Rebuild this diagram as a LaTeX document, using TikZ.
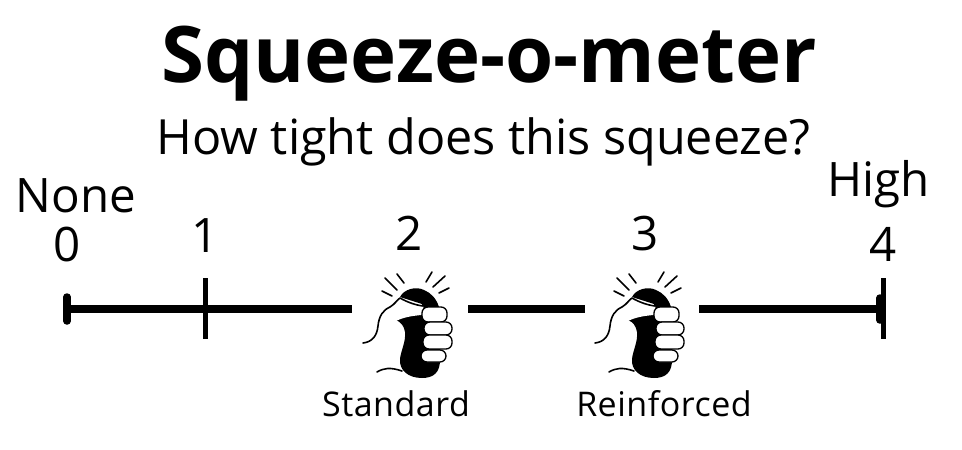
\documentclass[tikz,border=0pt]{standalone}
\usepackage{fontspec}
\setmainfont{Open Sans}
\tikzset{
  every node/.style={inner sep=0pt,outer sep=0pt,anchor=base,text=black},
  titletext/.style={font=\fontsize{78}{78}\selectfont\bfseries},
  subtext/.style={font=\fontsize{48.5}{48}\selectfont},
  bigtext/.style={font=\fontsize{47.5}{47}\selectfont},
  smalltext/.style={font=\fontsize{34}{34}\selectfont\addfontfeature{LetterSpace=1.5}},
  axis/.style={line width=7.5pt,black},
  tick/.style={line width=5pt,black},
  endcap/.style={line width=7.5pt,black,line cap=round},
  hand/.style={line width=1.6pt,black,line cap=round,line join=round},
  finger/.style={line width=1.3pt,draw=black,fill=white,rounded corners=6pt},
  pics/fist/.style={code={
    \begin{scope}[yscale=-1]
    \fill[black] (50,37) .. controls (54,29) and (66,26) .. (74,30) .. controls (81,33) and (86,38) .. (89,47)
      -- (90,100) .. controls (90,112) and (84,118) .. (72,118) .. controls (58,118) and (49,110) .. (50,99)
      .. controls (51,90) and (56,82) .. (55,72) .. controls (54,66) and (51,62) .. (46,60) -- (72,50) -- (72,44) -- cycle;
    \fill[white] (13,83) .. controls (22,82) and (27,76) .. (28,66)
      .. controls (29,56) and (33,50) .. (40,47) .. controls (45,44) and (47,40) .. (50,38)
      .. controls (57,42) and (65,45) .. (73,46) .. controls (75,50) and (73,54) .. (71,55)
      .. controls (62,56) and (54,57) .. (46,61) -- cycle;
    \draw[hand] (13,83) .. controls (22,82) and (27,76) .. (28,66)
      .. controls (29,56) and (33,50) .. (40,47) .. controls (45,44) and (47,40) .. (50,38)
      .. controls (57,42) and (65,45) .. (73,46);
    \draw[hand] (27,112) .. controls (34,108) and (40,107) .. (52,111);
    \draw[finger] (72,47) rectangle (97,62);
    \draw[finger] (74,62) rectangle (102,75);
    \draw[finger] (73,75) rectangle (102,89);
    \draw[finger] (71,90) rectangle (96,102);
    \draw[hand] (32,31) -- (42,36);
    \draw[hand] (35,18) -- (47,30);
    \draw[hand] (47,14) -- (54,23);
    \draw[hand] (76,22) -- (82,12);
    \draw[hand] (83,27) -- (95,16);
    \draw[hand] (89,33) -- (99,28);
    \end{scope}
  }}
}
\begin{document}
\begin{tikzpicture}[x=1pt,y=1pt]
\useasboundingbox (0,0) rectangle (962,-450);
\node[titletext] (title) at (489,-82) {Squeeze-o-meter};
\node[subtext] (sub) at (483.5,-154) {How tight does this squeeze?};
\node[bigtext] (none) at (76,-212) {None};
\node[bigtext] (high) at (878.5,-196) {High};
\node[bigtext] (n0) at (67.5,-261) {0};
\node[bigtext] (n1) at (205,-252) {1};
\node[bigtext] (n2) at (409,-250) {2};
\node[bigtext] (n3) at (645,-250) {3};
\node[bigtext] (n4) at (883,-261) {4};
\node[smalltext] (std) at (396,-416) {Standard};
\node[smalltext] (rei) at (664,-416) {Reinforced};
\coordinate (a0) at (67,-309);
\coordinate (a1) at (352,-309);
\coordinate (b0) at (468,-309);
\coordinate (b1) at (585,-309);
\coordinate (c0) at (699,-309);
\coordinate (c1) at (881,-309);
\draw[axis] (a0) -- (a1);
\draw[axis] (b0) -- (b1);
\draw[axis] (c0) -- (c1);
\draw[endcap] (67,-297) -- (67,-321);
\draw[tick] (205,-278) -- (205,-339);
\draw[tick] (883,-278) -- (883,-339);
\draw[endcap] (880,-298) -- (880,-320);
\pic at (350,-260) {fist};
\pic at (582,-260) {fist};
\end{tikzpicture}
\end{document}
